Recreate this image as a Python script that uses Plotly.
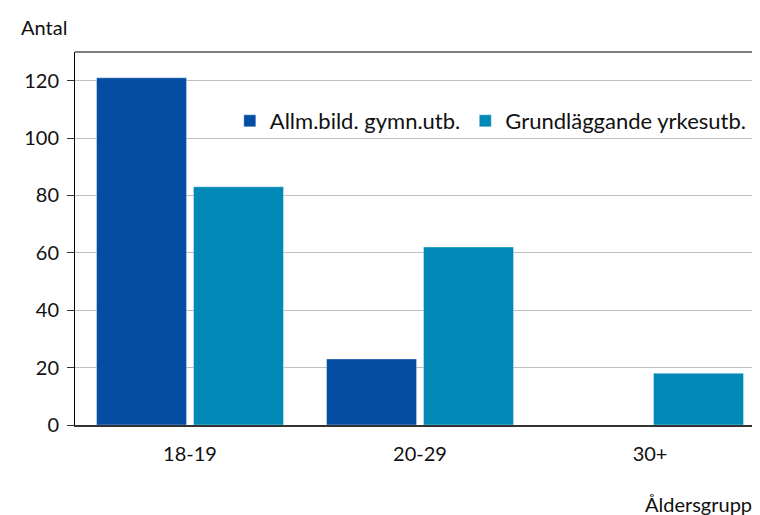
import plotly.graph_objects as go

categories = ["18-19", "20-29", "30+"]
series_names = ["Allm.bild. gymn.utb.", "Grundläggande yrkesutb."]
allm_values = [121, 23, 0]
grund_values = [83, 62, 18]
y_ticks = [0, 20, 40, 60, 80, 100, 120]

colors = ["#034EA2", "#0089B6"]
font_family = "Lato, 'Open Sans', sans-serif"

fig = go.Figure()
for name, vals, col in zip(series_names, [allm_values, grund_values], colors):
    fig.add_trace(go.Bar(
        x=categories, y=vals, name=name,
        marker=dict(color=col, line=dict(color="rgba(255,255,255,0.35)", width=1)),
    ))

fig.update_layout(
    width=752, height=507,
    margin=dict(l=67, r=0, t=44, b=90),
    plot_bgcolor="white", paper_bgcolor="white",
    barmode="group", bargap=0.157, bargroupgap=0.072,
    font=dict(family=font_family, size=20, color="#111111"),
    showlegend=True,
    legend=dict(orientation="h", x=0.226, y=0.815, xanchor="left", yanchor="middle",
                font=dict(size=22), bgcolor="rgba(0,0,0,0)",
                itemwidth=30, traceorder="normal", tracegroupgap=0),
    xaxis=dict(range=[-0.5, 2.478], showline=True, linecolor="#333333", linewidth=2,
               ticks="", showgrid=False, ticklabelstandoff=10),
    yaxis=dict(range=[0, 130], tickvals=y_ticks, showline=True, linecolor="black", linewidth=1,
               mirror=False, ticks="outside", ticklen=7, tickcolor="#333333",
               showgrid=True, gridcolor="#BFBFBF", gridwidth=1, zeroline=False,
               ticklabelstandoff=4),
    shapes=[dict(type="line", xref="paper", yref="paper", x0=0, x1=1, y0=1, y1=1,
                 line=dict(color="black", width=1))],
    annotations=[
        dict(text="Antal", xref="paper", yref="paper", x=-0.082, y=1.03,
             xanchor="left", yanchor="bottom", showarrow=False),
        dict(text="Åldersgrupp", xref="paper", yref="paper", x=0.829, y=-0.175,
             xanchor="left", yanchor="top", showarrow=False),
    ],
)

fig.write_html("out.html")
